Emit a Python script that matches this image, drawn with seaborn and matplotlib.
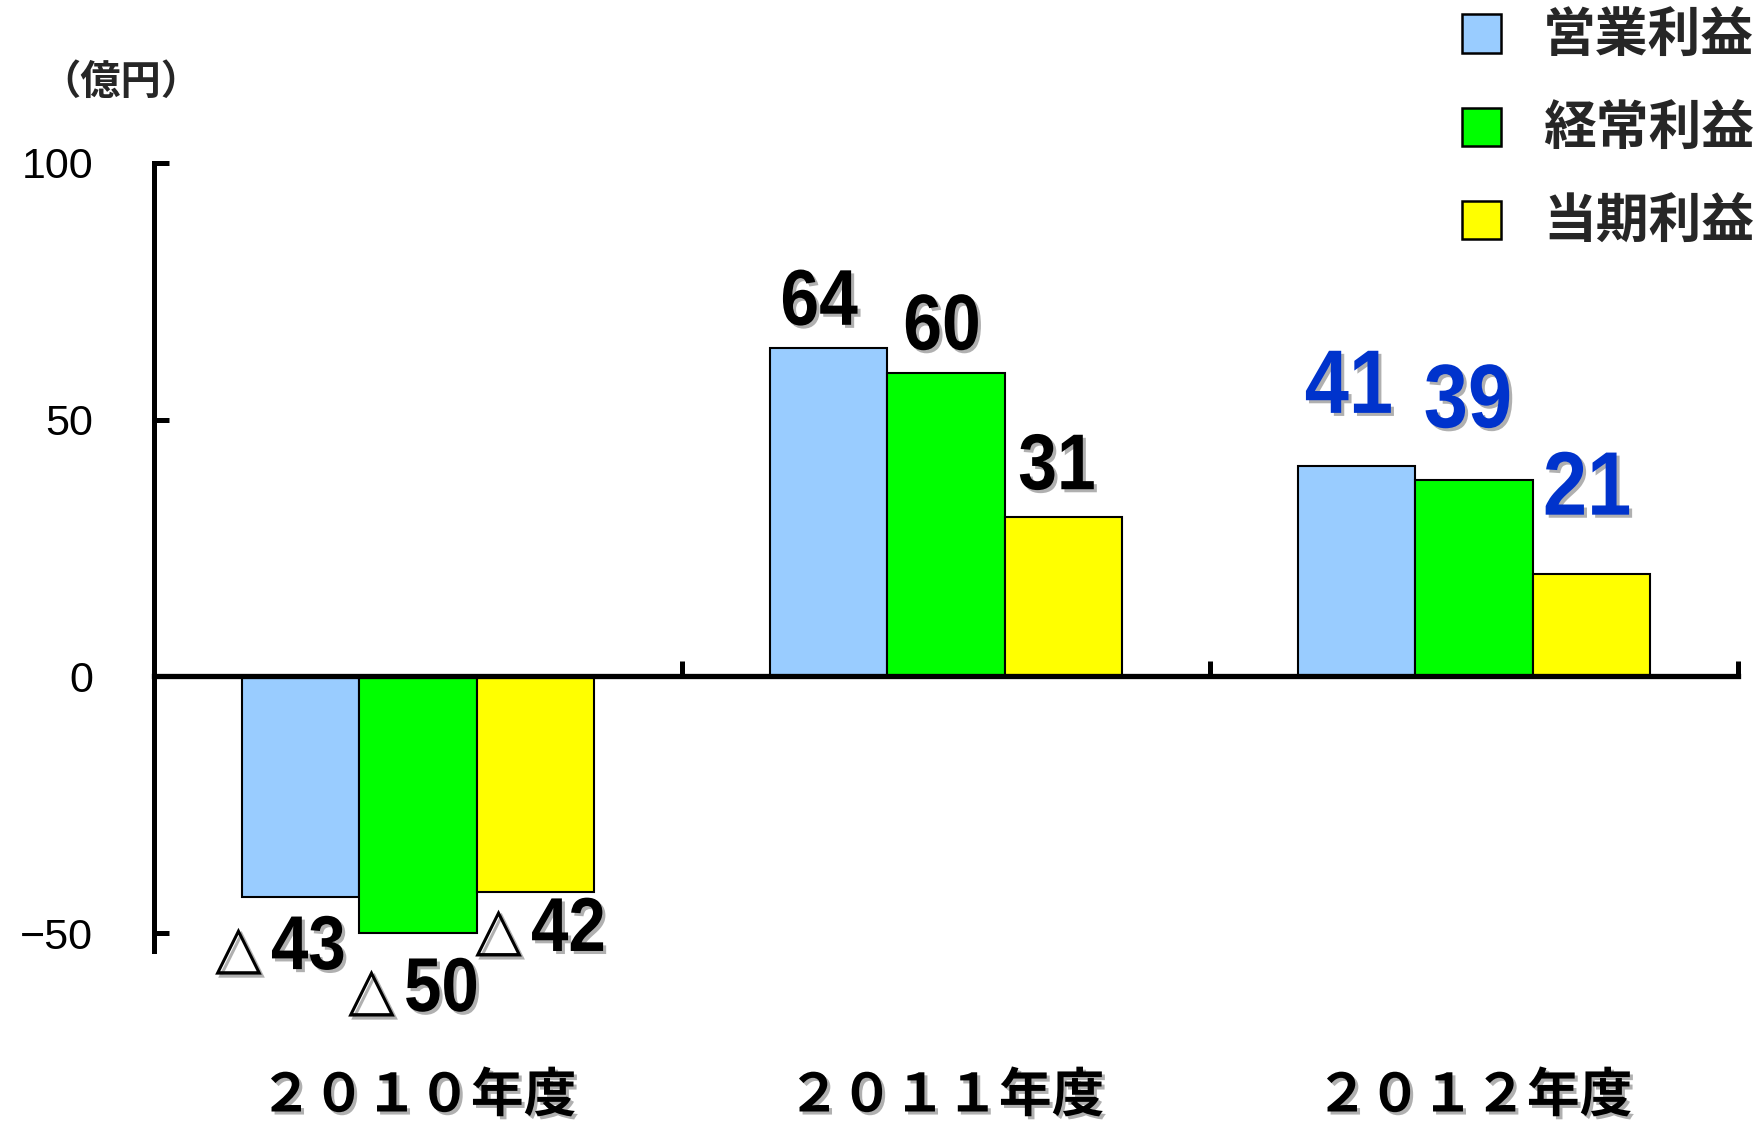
import matplotlib
matplotlib.use("Agg")
import matplotlib.pyplot as plt
import matplotlib.patheffects as pe
from matplotlib.patches import Patch
from matplotlib.transforms import Affine2D, blended_transform_factory
import seaborn as sns
import pandas as pd

# ---- data ----
years = ["2010年度", "2011年度", "2012年度"]
year_labels = ["２０１０年度", "２０１１年度", "２０１２年度"]
series = ["営業利益", "経常利益", "当期利益"]
operating = [-43, 64, 41]
ordinary = [-50, 59, 38.2]
net = [-42, 31, 20]
operating_text = ["△43", "64", "41"]
ordinary_text = ["△50", "60", "39"]
net_text = ["△42", "31", "21"]
yticks = [-50, 0, 50, 100]
ytick_labels = ["−50", "0", "50", "100"]
unit_label = "（億円）"

# ---- style / layout ----
colors = ["#99CCFF", "#00FF00", "#FFFF00"]
text_colors = ["black", "black", "#0033CC"]       # per year
text_sizes = [55, 57, 65]                          # per year
# label offsets in pixels (dx, dy) per series per year, relative to bar end
dx = [[-36, -10, -8], [-20, -4, -6], [-10, -6, -4]]
dy = [[-72, 23, 53], [-78, 24, 53], [-59, 28, 59]]


class Condense(pe.AbstractPathEffect):
    """Squeeze glyphs horizontally around their own centre, then apply inner effects."""

    def __init__(self, sx, inner):
        super().__init__()
        self.sx = sx
        self.inner = inner

    def draw_path(self, renderer, gc, tpath, affine, rgbFace=None):
        ext = tpath.get_extents()
        cx = (ext.x0 + ext.x1) / 2
        sq = Affine2D().translate(-cx, 0).scale(self.sx, 1).translate(cx, 0)
        for eff in self.inner:
            eff.draw_path(renderer, gc, tpath, sq + affine, rgbFace)


sns.set_theme(style="white")
plt.rcParams["font.family"] = ["Noto Sans CJK JP", "DejaVu Sans"]

df = pd.DataFrame({
    "year": years * 3,
    "series": [s for s in series for _ in years],
    "value": operating + ordinary + net,
})
texts = [operating_text, ordinary_text, net_text]

fig = plt.figure(figsize=(17.64, 11.23), dpi=100)
W, H = 1764, 1123
ax = fig.add_axes([154 / W, 172 / H, (1738 - 154) / W, (960 - 172) / H])

sns.barplot(data=df, x="year", y="value", hue="series", order=years,
            hue_order=series, palette=colors, saturation=1, width=0.665,
            gap=0, edgecolor="black", linewidth=1.5, ax=ax, legend=False)

ax.set_xlim(-0.5, 2.5)
ax.set_ylim(-53.5, 100)
for s in ["top", "right"]:
    ax.spines[s].set_visible(False)
ax.spines["bottom"].set_position(("data", 0))
ax.spines["bottom"].set_linewidth(3.8)
ax.spines["left"].set_linewidth(3.6)
ax.spines["bottom"].set_color("black")
ax.spines["left"].set_color("black")
ax.spines["bottom"].set_zorder(5)

ax.set_xticks([0.5, 1.5, 2.5])
ax.set_xticklabels([])
ax.set_yticks(yticks)
ax.set_yticklabels(ytick_labels, family=["Liberation Sans", "DejaVu Sans"])
ax.tick_params(axis="x", bottom=True, direction="in", length=11, width=3.6, color="black")
ax.tick_params(axis="y", left=True, direction="in", length=11, width=3.6, color="black",
               pad=44, labelsize=31, labelcolor="black")
for lab in ax.get_yticklabels():
    lab.set_y(lab.get_position()[1])
ax.set_xlabel("")
ax.set_ylabel("")

shadow = [pe.SimplePatchShadow(offset=(2.2, -2.2), shadow_rgbFace="#b0b0b0", alpha=1.0),
          pe.Normal()]
narrow = [Condense(0.88, shadow)]

# data labels
for si, cont in enumerate(ax.containers):
    for yi, bar in enumerate(cont):
        xc = bar.get_x() + bar.get_width() / 2
        yv = df.loc[(df.series == series[si]) & (df.year == years[yi]), "value"].iloc[0]
        txt = texts[si][yi]
        common = dict(xy=(xc, yv), textcoords="offset pixels", va="baseline",
                      color=text_colors[yi], annotation_clip=False)
        if txt.startswith("△"):
            ax.annotate("△", xytext=(dx[si][yi] - 3, dy[si][yi] + 2), ha="right",
                        fontsize=44, fontweight="bold", family="DejaVu Sans",
                        path_effects=shadow, **common)
            ax.annotate(txt[1:], xytext=(dx[si][yi] + 1, dy[si][yi]), ha="left",
                        fontsize=text_sizes[yi], fontweight="bold",
                        family=["Liberation Sans", "DejaVu Sans"],
                        path_effects=narrow, **common)
        else:
            ax.annotate(txt, xytext=(dx[si][yi], dy[si][yi]), ha="center",
                        fontsize=text_sizes[yi], fontweight="bold",
                        family=["Liberation Sans", "DejaVu Sans"],
                        path_effects=narrow, **common)

# category labels
tr = blended_transform_factory(ax.transData, fig.transFigure)
for i, lab in enumerate(year_labels):
    ax.text(i, 1 - 1096 / H, lab, transform=tr, ha="center", va="center",
            fontsize=38, fontweight="bold", color="black",
            family=["Noto Sans CJK JP", "DejaVu Sans"],
            path_effects=shadow, clip_on=False)

# unit label
fig.text(121 / W, 1 - 82 / H, unit_label, ha="center", va="center",
         fontsize=29, fontweight="bold", family=["Noto Sans CJK JP", "DejaVu Sans"])

# legend
handles = [Patch(facecolor=c, edgecolor="black", linewidth=1.8) for c in colors]
fig.legend(handles, series, loc="upper right",
           bbox_to_anchor=(1754 / W, 1 - 10 / H), bbox_transform=fig.transFigure,
           frameon=False, prop={"size": 38, "weight": "bold", "family": "Noto Sans CJK JP"},
           handlelength=0.74, handleheight=0.74, handletextpad=0.8,
           labelspacing=0.76, borderpad=0, borderaxespad=0)

fig.savefig("out.png", dpi=100)
